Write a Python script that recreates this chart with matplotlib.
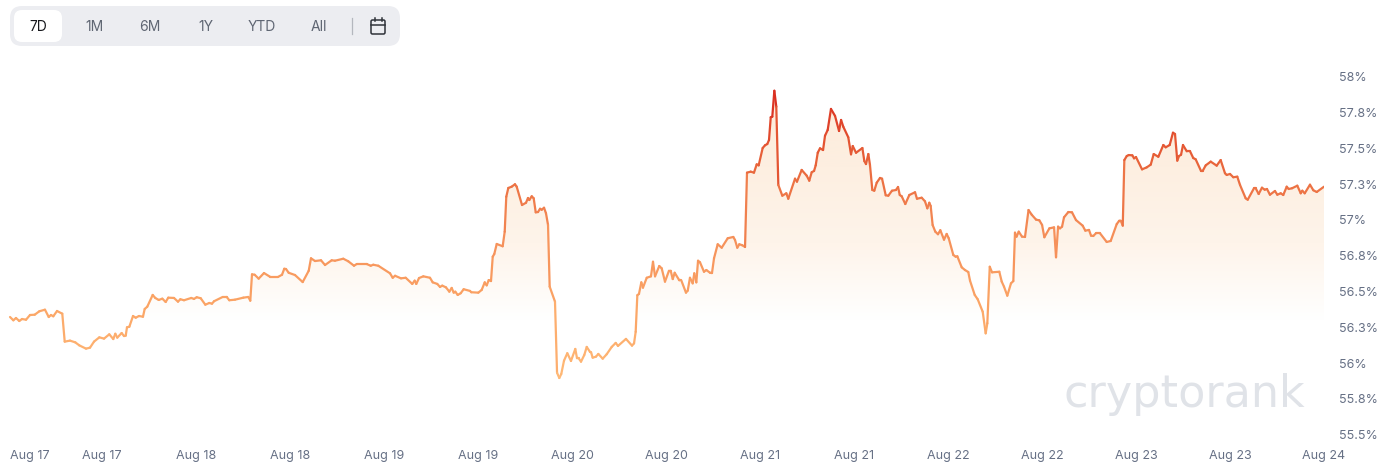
import matplotlib
matplotlib.use('Agg')
import matplotlib.pyplot as plt
import numpy as np
from matplotlib.collections import LineCollection
from matplotlib.colors import LinearSegmentedColormap
from matplotlib.patches import FancyBboxPatch
from matplotlib.path import Path
from matplotlib.transforms import ScaledTranslation

plt.rcParams['font.family'] = ['Inter', 'DejaVu Sans']

# hours since the start of the 7 day window
hours = [
    0.26, 0.68, 1.02, 1.44, 1.79, 2.30, 2.81, 3.41, 4.00, 4.72, 5.20, 5.49, 5.78, 6.26, 6.93, 7.24, 7.91, 8.59, 9.10, 9.96,
    10.47, 10.98, 11.66, 12.26, 12.93, 13.44, 13.70, 13.95, 14.51, 14.81, 15.03, 15.19, 15.49, 15.96, 16.30, 16.72, 17.23, 17.45, 17.78, 18.47,
    18.80, 19.24, 19.70, 20.13, 20.46, 21.19, 21.70, 22.00, 22.47, 23.40, 23.74, 24.09, 24.60, 25.19, 25.70, 26.04, 26.30, 27.41, 27.92, 28.25,
    28.98, 30.04, 30.68, 30.93, 31.15, 31.49, 32.00, 32.68, 33.45, 34.51, 34.98, 35.27, 35.49, 35.83, 36.64, 37.62, 38.39, 38.68, 39.19, 39.96,
    40.47, 41.32, 41.74, 42.80, 43.44, 44.17, 44.52, 45.79, 46.30, 46.63, 47.27, 48.77, 49.11, 49.41, 50.17, 50.77, 51.61, 51.92, 52.12, 52.47,
    53.02, 53.87, 54.22, 54.80, 55.15, 55.44, 55.91, 56.34, 56.64, 56.90, 57.10, 57.41, 57.79, 58.17, 58.98, 59.14, 60.04, 60.47, 60.86, 61.11,
    61.37, 61.66, 61.88, 62.08, 62.39, 63.15, 63.41, 63.61, 63.87, 64.30, 64.72, 64.94, 65.62, 66.13, 66.38, 66.55, 66.86, 67.11, 67.37, 67.66,
    67.92, 68.13, 68.43, 68.68, 68.94, 69.15, 69.83, 70.09, 70.38, 70.63, 70.98, 71.40, 71.87, 72.42, 72.64, 72.85, 73.15, 73.57, 73.88, 74.30,
    74.43, 74.64, 75.06, 75.36, 75.92, 76.43, 77.07, 77.58, 77.87, 78.89, 79.66, 79.92, 80.13, 80.34, 80.55, 80.85, 81.06, 81.54, 82.08, 82.34,
    82.60, 83.14, 83.45, 83.87, 84.38, 84.60, 84.86, 85.11, 85.70, 85.95, 86.55, 86.77, 87.06, 87.41, 87.61, 87.87, 88.09, 88.34, 88.85, 89.15,
    89.62, 89.87, 90.13, 90.60, 91.11, 91.88, 92.59, 92.81, 93.10, 93.36, 93.74, 94.09, 94.34, 94.81, 95.23, 95.58, 95.83, 96.34, 96.64, 96.93,
    97.15, 97.37, 97.57, 97.83, 98.08, 98.34, 98.85, 99.36, 99.61, 100.47, 100.72, 101.32, 101.96, 102.29, 102.60, 102.90, 103.11, 103.37, 103.66, 104.05,
    104.30, 104.64, 105.06, 105.58, 106.09, 106.35, 106.63, 107.27, 107.62, 107.84, 108.26, 109.07, 109.32, 109.53, 109.83, 110.04, 110.34, 110.59, 110.90, 111.32,
    111.58, 112.05, 112.38, 112.85, 113.36, 113.62, 113.84, 114.09, 114.55, 115.06, 115.79, 116.04, 116.64, 117.06, 117.36, 117.61, 117.79, 118.04, 118.38, 118.72,
    119.02, 119.49, 119.83, 120.09, 120.68, 120.98, 121.19, 121.75, 122.17, 122.59, 122.81, 123.41, 123.79, 124.43, 124.81, 125.02, 125.33, 125.62, 126.55, 126.86,
    127.15, 127.57, 128.04, 128.34, 128.55, 128.75, 129.03, 129.45, 129.83, 130.28, 130.69, 131.24, 131.66, 132.01, 132.30, 132.94, 133.54, 133.79, 134.05, 134.30,
    134.56, 134.81, 135.36, 135.83, 136.34, 137.19, 137.53, 138.00, 138.26, 138.55, 138.89, 139.40, 140.26, 140.77, 141.54, 141.87, 142.05, 142.31, 142.51, 142.82,
    143.07, 143.53, 143.75, 144.00, 144.77, 145.37, 145.88, 146.26, 146.85, 147.49, 147.79, 148.30, 148.72, 148.98, 149.27, 149.49, 149.75, 150.00, 150.48, 150.90,
    151.31, 151.62, 152.30, 152.51, 152.90, 153.54, 154.30, 154.81, 155.36, 155.58, 156.00, 156.42, 156.93, 157.28, 158.00, 158.26, 159.06, 159.28, 159.66, 160.08,
    160.43, 160.72, 161.10, 161.74, 162.04, 162.47, 162.80, 163.24, 163.49, 163.92, 164.59, 165.03, 165.23, 165.54, 166.21, 166.64, 167.07, 168.00,
]

# percentage
share = [
    56.324, 56.301, 56.317, 56.296, 56.310, 56.305, 56.338, 56.340, 56.364, 56.375, 56.324, 56.338, 56.329, 56.366, 56.347, 56.152, 56.159, 56.147, 56.126, 56.103,
    56.110, 56.152, 56.182, 56.173, 56.203, 56.170, 56.207, 56.180, 56.212, 56.191, 56.194, 56.252, 56.256, 56.331, 56.319, 56.331, 56.326, 56.380, 56.396, 56.478,
    56.457, 56.443, 56.452, 56.429, 56.459, 56.457, 56.431, 56.448, 56.441, 56.457, 56.450, 56.462, 56.455, 56.410, 56.422, 56.417, 56.434, 56.464, 56.464, 56.441,
    56.445, 56.459, 56.464, 56.438, 56.622, 56.619, 56.592, 56.631, 56.605, 56.605, 56.619, 56.661, 56.659, 56.633, 56.617, 56.568, 56.647, 56.734, 56.715, 56.720,
    56.687, 56.720, 56.717, 56.731, 56.713, 56.682, 56.694, 56.694, 56.682, 56.689, 56.682, 56.629, 56.598, 56.612, 56.594, 56.598, 56.555, 56.578, 56.555, 56.596,
    56.608, 56.598, 56.566, 56.555, 56.534, 56.543, 56.531, 56.501, 56.527, 56.494, 56.501, 56.478, 56.490, 56.518, 56.506, 56.497, 56.494, 56.513, 56.566, 56.545,
    56.582, 56.575, 56.745, 56.764, 56.834, 56.818, 56.920, 57.164, 57.225, 57.234, 57.251, 57.234, 57.106, 57.122, 57.155, 57.141, 57.167, 57.153, 57.055, 57.057,
    57.080, 57.073, 57.087, 57.048, 56.967, 56.536, 56.431, 55.935, 55.898, 55.926, 56.019, 56.071, 56.017, 56.101, 56.036, 56.036, 56.012, 56.059, 56.115, 56.080,
    56.078, 56.040, 56.047, 56.066, 56.033, 56.064, 56.115, 56.143, 56.122, 56.171, 56.124, 56.140, 56.221, 56.476, 56.485, 56.566, 56.529, 56.598, 56.608, 56.710,
    56.608, 56.680, 56.664, 56.571, 56.647, 56.647, 56.589, 56.633, 56.580, 56.580, 56.494, 56.508, 56.598, 56.559, 56.629, 56.566, 56.717, 56.706, 56.640, 56.652,
    56.633, 56.631, 56.734, 56.832, 56.808, 56.874, 56.883, 56.862, 56.808, 56.832, 56.825, 56.813, 57.332, 57.339, 57.332, 57.390, 57.383, 57.504, 57.523, 57.532,
    57.560, 57.719, 57.723, 57.904, 57.793, 57.246, 57.171, 57.188, 57.150, 57.290, 57.269, 57.351, 57.311, 57.276, 57.335, 57.344, 57.383, 57.471, 57.502, 57.490,
    57.590, 57.630, 57.777, 57.728, 57.623, 57.700, 57.653, 57.579, 57.460, 57.518, 57.471, 57.504, 57.413, 57.392, 57.462, 57.385, 57.211, 57.206, 57.262, 57.295,
    57.290, 57.174, 57.171, 57.206, 57.211, 57.232, 57.176, 57.167, 57.113, 57.176, 57.195, 57.150, 57.157, 57.132, 57.083, 57.122, 57.099, 56.966, 56.920, 56.902,
    56.930, 56.864, 56.904, 56.874, 56.757, 56.745, 56.748, 56.671, 56.652, 56.638, 56.578, 56.478, 56.448, 56.361, 56.210, 56.280, 56.675, 56.636, 56.640, 56.571,
    56.536, 56.473, 56.559, 56.575, 56.913, 56.885, 56.920, 56.885, 56.883, 57.071, 57.038, 57.004, 56.999, 56.967, 56.881, 56.943, 56.950, 56.741, 56.955, 56.943,
    56.955, 57.020, 57.057, 57.055, 57.001, 56.962, 56.927, 56.932, 56.892, 56.890, 56.909, 56.909, 56.848, 56.855, 56.973, 56.997, 56.997, 56.962, 57.420, 57.448,
    57.455, 57.453, 57.432, 57.441, 57.355, 57.369, 57.388, 57.462, 57.443, 57.525, 57.509, 57.525, 57.611, 57.602, 57.416, 57.448, 57.457, 57.525, 57.481, 57.481,
    57.434, 57.425, 57.344, 57.344, 57.383, 57.409, 57.381, 57.420, 57.328, 57.316, 57.323, 57.300, 57.304, 57.246, 57.153, 57.143, 57.223, 57.223, 57.183, 57.227,
    57.213, 57.218, 57.178, 57.204, 57.178, 57.188, 57.176, 57.234, 57.218, 57.223, 57.241, 57.188, 57.206, 57.188, 57.248, 57.209, 57.197, 57.234,
]

# axis labels
y_ticks = [55.5, 55.75, 56, 56.25, 56.5, 56.75, 57, 57.25, 57.5, 57.75, 58]
y_labels = ['55.5%', '55.8%', '56%', '56.3%', '56.5%', '56.8%', '57%', '57.3%', '57.5%', '57.8%', '58%']
x_ticks = [0, 12, 24, 36, 48, 60, 72, 84, 96, 108, 120, 132, 144, 156, 168]
x_labels = ['Aug 17', 'Aug 17', 'Aug 18', 'Aug 18', 'Aug 19', 'Aug 19', 'Aug 20', 'Aug 20',
            'Aug 21', 'Aug 21', 'Aug 22', 'Aug 22', 'Aug 23', 'Aug 23', 'Aug 24']

# range buttons above the chart
buttons = ['7D', '1M', '6M', '1Y', 'YTD', 'All']
button_x = [38, 94, 150, 206, 262, 319]

W, H = 1383, 472
fig = plt.figure(figsize=(W / 100, H / 100), dpi=100, facecolor='white')

# chart area, 8..1324 px wide and 77..435 px high
ax = fig.add_axes([8 / W, 1 - 435 / H, 1316 / W, 358 / H])
for s in ax.spines.values():
    s.set_visible(False)

x = np.array(hours)
y = np.array(share)

# area between the line and the opening value, fading out towards it
base = 56.3
fill_cmap = LinearSegmentedColormap.from_list('fill', ['#ffffff', '#fef4ea', '#fdefe1', '#fdecdb'])
img = ax.imshow(np.linspace(0, 1, 256).reshape(-1, 1), extent=[0, 168, base, 57.9], origin='lower',
                aspect='auto', cmap=fill_cmap, zorder=1)
poly = ax.fill_between(x, y, base, where=y >= base, interpolate=True, color='none')
img.set_clip_path(Path.make_compound_path(*poly.get_paths()), transform=ax.transData)
ax.set_xlim(0, 168)
ax.set_ylim(55.5, 58)

# line colour follows the height of the value
line_cmap = LinearSegmentedColormap.from_list('line', ['#ffba78', '#fba566', '#f58f59', '#e8643a', '#d92b1f'])
pts = np.column_stack([x, y]).reshape(-1, 1, 2)
segs = np.concatenate([pts[:-1], pts[1:]], axis=1)
lc = LineCollection(segs, cmap=line_cmap, linewidth=1.6, capstyle='round', joinstyle='round', zorder=3)
lc.set_array((y[:-1] + y[1:]) / 2)
lc.set_clim(55.9, 57.9)
ax.add_collection(lc)

ax.yaxis.tick_right()
ax.set_yticks(y_ticks, y_labels)
ax.set_xticks(x_ticks, x_labels)
ax.tick_params(axis='y', length=0, pad=11, labelsize=9, labelcolor='#667085')
ax.tick_params(axis='x', length=0, pad=10.5, labelsize=9, labelcolor='#667085')
for lab in ax.get_yticklabels():
    lab.set_transform(lab.get_transform() + ScaledTranslation(0, 0.4 / 100, fig.dpi_scale_trans))
# first date label is pushed inside the chart
first = ax.get_xticklabels()[0]
first.set_horizontalalignment('left')
first.set_transform(first.get_transform() + ScaledTranslation(2 / 100, 0, fig.dpi_scale_trans))

# overlay in pixel units for the button bar and the watermark
ui = fig.add_axes([0, 0, 1, 1], facecolor='none')
ui.set_xlim(0, W)
ui.set_ylim(H, 0)
ui.axis('off')

ui.add_patch(FancyBboxPatch((10, 6), 390, 40, boxstyle='round,pad=0,rounding_size=12',
                            fc='#ecedf1', lw=0, zorder=1))
ui.add_patch(FancyBboxPatch((14, 10), 48, 32, boxstyle='round,pad=0,rounding_size=8',
                            fc='white', lw=0, zorder=2))
for label, bx in zip(buttons, button_x):
    col = '#17181c' if label == '7D' else '#5f6673'
    ui.text(bx, 27, label, ha='center', va='center', fontsize=10, color=col, zorder=3)
ui.plot([351.5, 351.5], [18, 34], color='#b4b7be', lw=0.9, zorder=3)

# calendar icon
ui.add_patch(FancyBboxPatch((371, 20), 14, 14, boxstyle='round,pad=0,rounding_size=1.5',
                            fc='none', ec='#2f333a', lw=1.1, zorder=3))
ui.plot([371, 385], [24.5, 24.5], color='#2f333a', lw=1.1, zorder=3)
ui.plot([374.5, 374.5], [18, 21], color='#2f333a', lw=1.1, zorder=3)
ui.plot([381.5, 381.5], [18, 21], color='#2f333a', lw=1.1, zorder=3)

ui.text(1184.5, 407, 'cryptorank', ha='center', va='baseline', fontsize=32, color='#e0e3e8',
        family='DejaVu Sans', zorder=0)

fig.savefig('out.png', dpi=100)
